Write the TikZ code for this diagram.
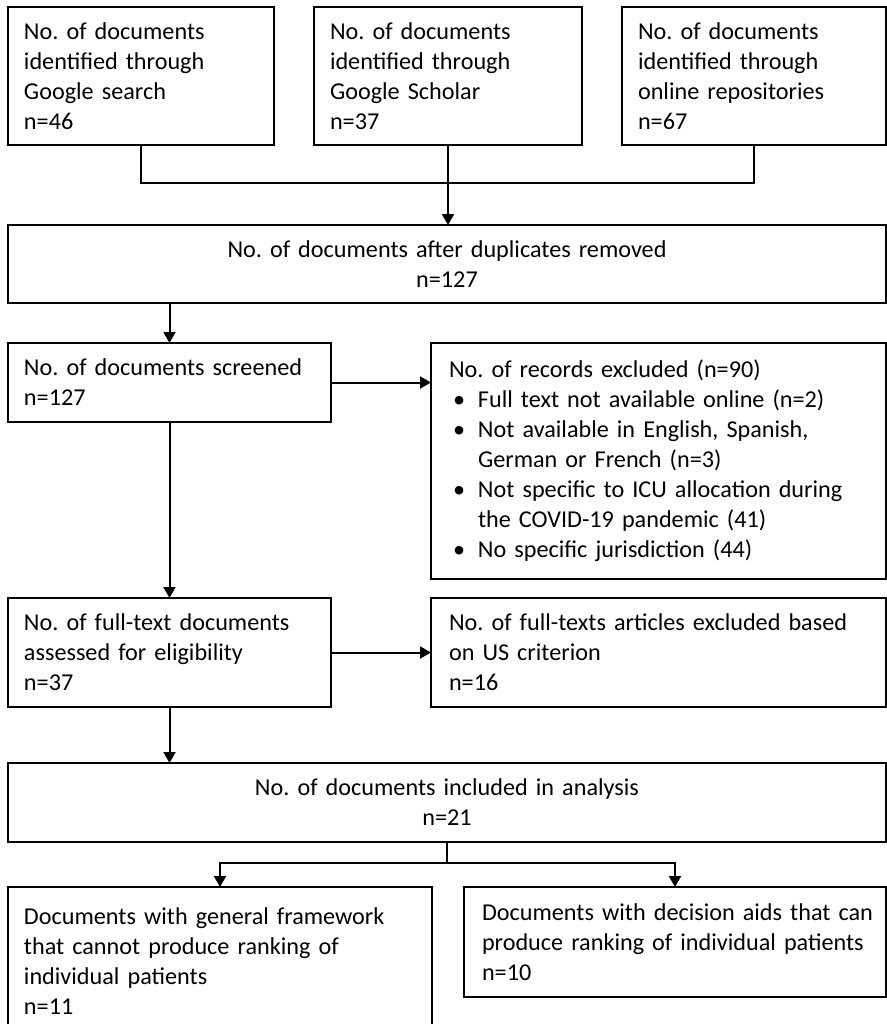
\documentclass[tikz,border=0pt]{standalone}
\usepackage{fontspec}
\setmainfont{Carlito}
\frenchspacing
\hyphenpenalty=10000
\usetikzlibrary{positioning}
\usetikzlibrary{calc}
\usetikzlibrary{arrows.meta}
\tikzset{
	box/.style={rectangle, draw, line width=1pt, anchor=north west, outer sep=0pt,
		inner xsep=8pt, inner ysep=0pt, align=left,
		font=\fontsize{12.1}{15}\selectfont},
	wbox/.style={box, inner xsep=9pt},
	cbox/.style={box, align=center},
	arr/.style={-{Triangle[length=5.5pt,width=6pt]}}
}
\newcommand{\blt}{\makebox[14.5pt][l]{\hspace{2pt}\textbullet}}
\newcommand{\bind}{\hspace*{14.5pt}}

\begin{document}
\begin{tikzpicture}[x=0.5pt, y=-0.5pt, line width=1pt]
	\useasboundingbox (0,0) rectangle (887,1024);
	\clip (0,0) rectangle (887,1024);
	% Sources
	\node[box, text width=117pt, minimum height=69pt] (1) at (8,7) {No. of documents\\identified through\\Google search\\n=46};
	\node[box, text width=118pt, minimum height=69pt] (2) at (314,7) {No. of documents\\identified through\\Google Scholar\\n=37};
	\node[box, text width=116pt, minimum height=69pt] (3) at (622,7) {No. of documents\\identified through\\online repositories\\n=67};
	
	\node[cbox, text width=423pt, minimum height=39pt] (4) at (8,225) {No. of documents after duplicates removed\\n=127};
	
	% Screening
	\node[box, text width=145.5pt, minimum height=39.5pt] (5) at (8,343) {No. of documents screened\\n=127};
	\node[wbox, text width=209.5pt, minimum height=118pt] (6) at (431,343) {No. of records excluded (n=90)\\
		\blt Full text not available online (n=2)\\
		\blt Not available in English, Spanish,\\
		\bind German or French (n=3)\\
		\blt Not specific to ICU allocation during\\
		\bind the COVID-19 pandemic (41)\\
		\blt No specific jurisdiction (44)};
	
	% Eligibility
	\node[box, text width=145.5pt, minimum height=54.5pt] (7) at (8,598) {No. of full-text documents\\assessed for eligibility\\n=37};
	\node[wbox, text width=209.5pt, minimum height=54.5pt] (8) at (431,598) {No. of full-texts articles excluded based\\on US criterion\\n=16};
	
	\node[cbox, text width=423pt, minimum height=39.5pt] (9) at (8,763) {No. of documents included in analysis\\n=21};
	
	% Included
	\node[box, text width=196pt, minimum height=74pt] (10) at (8,887) {Documents with general framework\\that cannot produce ranking of\\individual patients\\n=11};
	\node[wbox, text width=193pt, minimum height=55pt] (11) at (464,887) {\mbox{Documents with decision aids that can}\\\mbox{produce ranking of individual patients}\\n=10};
	
	\coordinate (j1) at (448,183);
	\coordinate (j2) at (447,863);
	
	\draw (1.south) |- (j1) -| (3.south);
	\draw[arr] (2.south) -- (2.south |- 4.north);
	\draw[arr] (5.north |- 4.south) -- (5.north);
	\draw[arr] (5.east) -- (5.east -| 6.west);
	\draw[arr] (5.south) -- (7.north);
	\draw[arr] (7.east) -- (7.east -| 8.west);
	\draw[arr] (7.south) -- (7.south |- 9.north);
	\draw (9.south) -- (j2);
	\draw[arr] (j2) -| (10.north);
	\draw[arr] (j2) -| (11.north);
\end{tikzpicture}
\end{document}
